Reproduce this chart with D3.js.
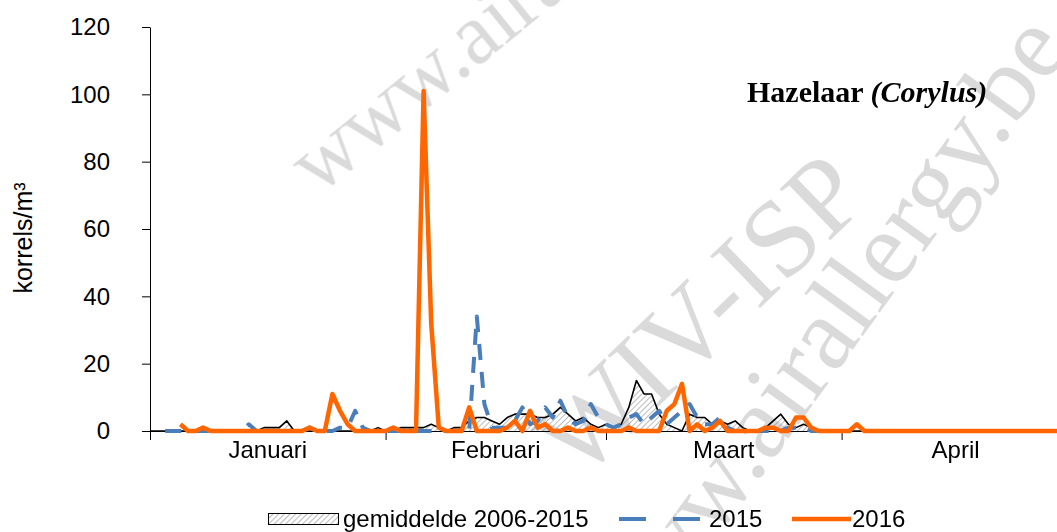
<!DOCTYPE html>
<html>
<head>
<meta charset="utf-8">
<script src="https://cdnjs.cloudflare.com/ajax/libs/d3/7.8.5/d3.min.js"></script>
<style>
  body { margin: 0; background: #fff; }
  svg { display: block; }
  text { font-family: "Liberation Sans", Arial, sans-serif; fill: #000; }
</style>
</head>
<body>
<svg id="chart" width="1057" height="532"></svg>
<script>
// months of 2016 (leap year), day index 0 = 1 januari
var months = ["Januari", "Februari", "Maart", "April"];
var monthStarts = [0, 31, 60, 91, 121];
var yTicks = [0, 20, 40, 60, 80, 100, 120];

// gemiddelde 2006-2015 (korrels/m3 per dag)
var mean0615 = [
  0, 0, 0, 0, 0, 0, 0, 0, 0, 0, 0, 0, 0, 0, 0, 1, 1, 1, 3, 0,
  0, 0, 0, 0, 0, 0, 0, 0, 0, 0, 1, 0, 0, 1, 1, 1, 1, 2, 1, 0,
  1, 1, 3, 4, 4, 3, 2, 4, 5, 5, 5, 4, 4, 5, 7, 5, 3, 4, 2, 1,
  2, 1, 2, 7, 15, 11, 11, 5, 2, 1, 0, 5, 4, 4, 2, 3, 2, 3, 1, 0,
  0, 1, 3, 5, 2, 1, 2, 1, 0, 0, 0, 0, 0, 0, 0, 0, 0, 0, 0, 0,
  0, 0, 0, 0, 0, 0, 0, 0, 0, 0, 0, 0, 0, 0, 0, 0, 0, 0, 0, 0,
  0
];

// 2015
var y2015 = [
  null, null, 0, 0, 0, 0, 0, 0, 0, 0, 0, 0, 0, 2, 0, 0, 0, 0, 0, 0,
  0, 1, 0, 0, 0, 1, 1, 6, 1, 0, 0, 0, 0, 0, 0, 0, 0, 0, 0, 0,
  0, 0, 0, 34, 8, 1, 1, 1, 3, 7, 2, 3, 7, 4, 9, 4, 2, 3, 8, 4,
  2, 1, 2, 4, 5, 2, 4, 6, 2, 4, 6, 8, 4, 2, 2, 4, 1, 0, 0, 0,
  0, 0, 0, 0, 1, 1, 1, 0, 0, 0, 0, 0, 0, 0, 0, 0, 0, 0, 0, 0,
  0, 0, 0, 0, 0, 0, 0, 0, 0, 0, 0, 0, 0, 0, 0, 0, 0, 0, 0, 0,
  0
];

// 2016
var y2016 = [
  null, null, null, null, 2, 0, 0, 1, 0, 0, 0, 0, 0, 0, 0, 0, 0, 0, 0, 0,
  0, 1, 0, 0, 11, 6, 2, 0, 0, 0, 0, 0, 1, 0, 0, 0, 101, 32, 1, 0,
  0, 0, 7, 0, 0, 0, 0, 1, 3, 0, 6, 1, 2, 0, 0, 1, 0, 0, 1, 0,
  0, 0, 0, 1, 0, 0, 0, 0, 6, 8, 14, 0, 2, 0, 1, 3, 0, 0, 0, 0,
  0, 1, 1, 0, 0, 4, 4, 1, 0, 0, 0, 0, 0, 2, 0, 0, 0, 0, 0, 0,
  0, 0, 0, 0, 0, 0, 0, 0, 0, 0, 0, 0, 0, 0, 0, 0, 0, 0, 0, 0,
  0
];

var svg = d3.select("#chart");

var x = d3.scaleLinear().domain([0, 121]).range([150, 150 + 121 * 7.6]);
var y = d3.scaleLinear().domain([0, 120]).range([431, 27]);

// hatch for the mean area
var defs = svg.append("defs");
defs.append("pattern")
    .attr("id", "hatch")
    .attr("patternUnits", "userSpaceOnUse")
    .attr("width", 4)
    .attr("height", 4)
    .attr("patternTransform", "rotate(45)")
  .append("line")
    .attr("x1", 0).attr("y1", 0)
    .attr("x2", 0).attr("y2", 4)
    .attr("stroke", "#8c8c8c")
    .attr("stroke-width", 1.2);

// watermark
var wm = svg.append("g").attr("opacity", 0.85);
var wmStyle = function(t, size) {
  t.style("font-family", "Liberation Serif, serif")
   .style("font-size", size + "px")
   .style("fill", "#d4d4d4");
};
wm.append("text")
    .attr("transform", "translate(318,196) rotate(-39)")
    .call(wmStyle, 86)
    .text("www.airallergy.be");
wm.append("text")
    .attr("transform", "translate(580,482) rotate(-44)")
    .call(wmStyle, 110)
    .text("WIV-ISP");
wm.append("text")
    .attr("text-anchor", "end")
    .attr("transform", "translate(1072,48) rotate(-54)")
    .call(wmStyle, 104)
    .text("www.airallergy.be");

// axes
var yAxis = d3.axisLeft(y)
    .tickValues(yTicks)
    .tickSize(8)
    .tickSizeOuter(0)
    .tickPadding(32);

var gy = svg.append("g")
    .attr("transform", "translate(150,0)")
    .call(yAxis);
gy.selectAll("text").style("font-size", "24px");

var xAxis = d3.axisBottom(x)
    .tickValues(monthStarts)
    .tickFormat("")
    .tickSize(9)
    .tickSizeOuter(0);

var gx = svg.append("g")
    .attr("transform", "translate(0,431)")
    .call(xAxis);

svg.selectAll(".domain, .tick line").attr("stroke", "#000");

svg.append("g").selectAll("text")
    .data(months)
  .enter().append("text")
    .attr("x", function(d, i) { return x((monthStarts[i] + monthStarts[i + 1]) / 2); })
    .attr("y", 458)
    .attr("text-anchor", "middle")
    .style("font-size", "24px")
    .text(function(d) { return d; });

svg.append("text")
    .attr("transform", "translate(32,238) rotate(-90)")
    .attr("text-anchor", "middle")
    .style("font-size", "25px")
    .text("korrels/m³");

// mean: hatched area + black line
var area = d3.area()
    .x(function(d, i) { return x(i); })
    .y0(y(0))
    .y1(function(d) { return y(d); });

var line = d3.line()
    .defined(function(d) { return d != null; })
    .x(function(d, i) { return x(i); })
    .y(function(d) { return y(d); });

svg.append("path")
    .datum(mean0615)
    .attr("d", area)
    .attr("fill", "url(#hatch)");

svg.append("path")
    .datum(mean0615)
    .attr("d", line)
    .attr("fill", "none")
    .attr("stroke", "#000")
    .attr("stroke-width", 1.6)
    .attr("stroke-linejoin", "round");

svg.append("path")
    .datum(y2015)
    .attr("d", line)
    .attr("fill", "none")
    .attr("stroke", "#4a7ebb")
    .attr("stroke-width", 4)
    .attr("stroke-dasharray", "16,12")
    .attr("stroke-linejoin", "round");

svg.append("path")
    .datum(y2016)
    .attr("d", line)
    .attr("fill", "none")
    .attr("stroke", "#ff6600")
    .attr("stroke-width", 4.5)
    .attr("stroke-linejoin", "round");

// title
var title = svg.append("text")
    .attr("x", 747)
    .attr("y", 102)
    .style("font-family", "Liberation Serif, Times New Roman, serif")
    .style("font-size", "30px")
    .style("font-weight", "bold");
title.append("tspan").text("Hazelaar ");
title.append("tspan").style("font-style", "italic").text("(Corylus)");

// legend
var legend = svg.append("g");
legend.append("rect")
    .attr("x", 268.5).attr("y", 513.5)
    .attr("width", 70).attr("height", 11)
    .attr("fill", "url(#hatch)")
    .attr("stroke", "#000")
    .attr("stroke-width", 1);
legend.append("text")
    .attr("x", 343).attr("y", 527)
    .style("font-size", "24px")
    .text("gemiddelde 2006-2015");
legend.append("line")
    .attr("x1", 619).attr("x2", 700)
    .attr("y1", 519).attr("y2", 519)
    .attr("stroke", "#4a7ebb")
    .attr("stroke-width", 4)
    .attr("stroke-dasharray", "27,27");
legend.append("text")
    .attr("x", 709).attr("y", 527)
    .style("font-size", "24px")
    .text("2015");
legend.append("line")
    .attr("x1", 792).attr("x2", 851)
    .attr("y1", 519).attr("y2", 519)
    .attr("stroke", "#ff6600")
    .attr("stroke-width", 4.5);
legend.append("text")
    .attr("x", 852).attr("y", 527)
    .style("font-size", "24px")
    .text("2016");
</script>
</body>
</html>
